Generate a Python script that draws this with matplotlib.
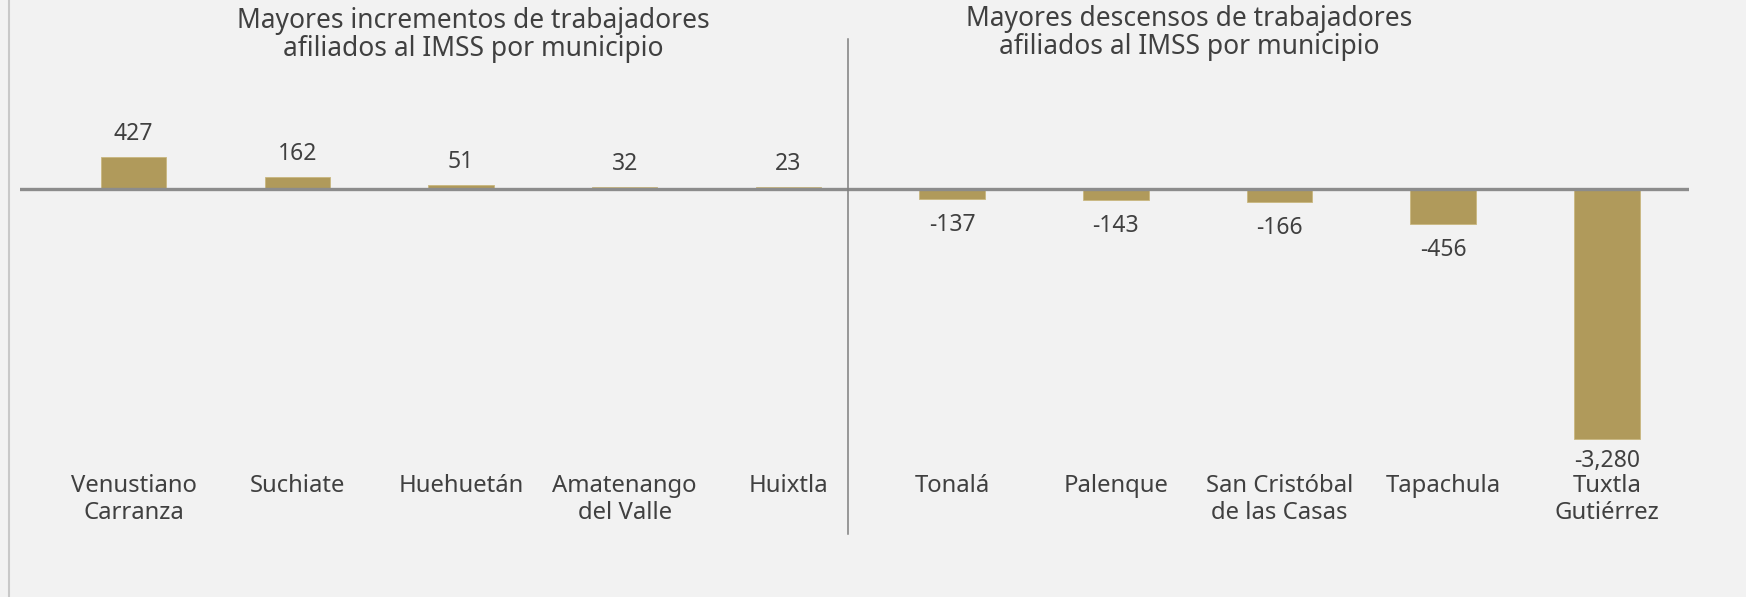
import matplotlib
matplotlib.use("Agg")
import matplotlib.pyplot as plt
from matplotlib.lines import Line2D
import numpy as np

categories = ["Venustiano\nCarranza", "Suchiate", "Huehuetán", "Amatenango\ndel Valle", "Huixtla",
              "Tonalá", "Palenque", "San Cristóbal\nde las Casas", "Tapachula", "Tuxtla\nGutiérrez"]
values = [427, 162, 51, 32, 23, -137, -143, -166, -456, -3280]
title_left = "Mayores incrementos de trabajadores\nafiliados al IMSS por municipio"
title_right = "Mayores descensos de trabajadores\nafiliados al IMSS por municipio"

BG = "#f2f2f2"
BAR = "#b09a5b"
TXT = "#404040"
FONT = "Noto Sans"

W, H = 1746, 597
fig = plt.figure(figsize=(W / 100, H / 100), dpi=100, facecolor=BG)

x0_px, x1_px = 20, 1689
ax = fig.add_axes([x0_px / W, 0, (x1_px - x0_px) / W, 1])
ax.set_facecolor(BG)
x = np.arange(len(values))
step_px = 163.7
first_px = 133.6
ax.set_xlim(-(first_px - x0_px) / step_px, 9 + (x1_px - first_px - 9 * step_px) / step_px)
zero_px = 189
ppu = 0.0761  # pixels per unit
ax.set_ylim(-(H - zero_px) / ppu, zero_px / ppu)
for s in ax.spines.values():
    s.set_visible(False)
ax.set_xticks([])
ax.set_yticks([])

ax.bar(x, values, width=0.4, color=BAR, edgecolor="#c9b77f", linewidth=0.6, zorder=2)
ax.axhline(0, color="#8c8c8c", lw=2.4, zorder=3)

VAL_FS = 16.5
for xi, v in zip(x, values):
    lab = f"{v:,}"
    if v >= 0:
        ax.text(xi, v + 23 / ppu, lab, ha="center", va="center", fontsize=VAL_FS, color=TXT, family=FONT)
    else:
        o = 26 / ppu if v > -1000 else 22 / ppu
        ax.text(xi, v - o, lab, ha="center", va="center", fontsize=VAL_FS, color=TXT, family=FONT)

trans = ax.get_xaxis_transform()
for xi, c in zip(x, categories):
    ax.text(xi, 1 - 474 / H, c, ha="center", va="top", fontsize=17.2, color=TXT,
            family=FONT, linespacing=1.15, transform=trans)

ax.plot([4.367, 4.367], [1 - 39 / H, 1 - 534 / H], transform=trans, color="#7f7f7f", lw=1.1, zorder=4)

fig.text(473 / W, 1 - 7 / H, title_left, ha="center", va="top", fontsize=19, color=TXT,
         family=FONT, linespacing=1.02)
fig.text(1189 / W, 1 - 5 / H, title_right, ha="center", va="top", fontsize=19, color=TXT,
         family=FONT, linespacing=1.02)

fig.add_artist(Line2D([9 / W, 9 / W], [0, 1], transform=fig.transFigure, color="#c8c8c8", lw=1.5))

fig.savefig("out.png", dpi=100, facecolor=BG)
